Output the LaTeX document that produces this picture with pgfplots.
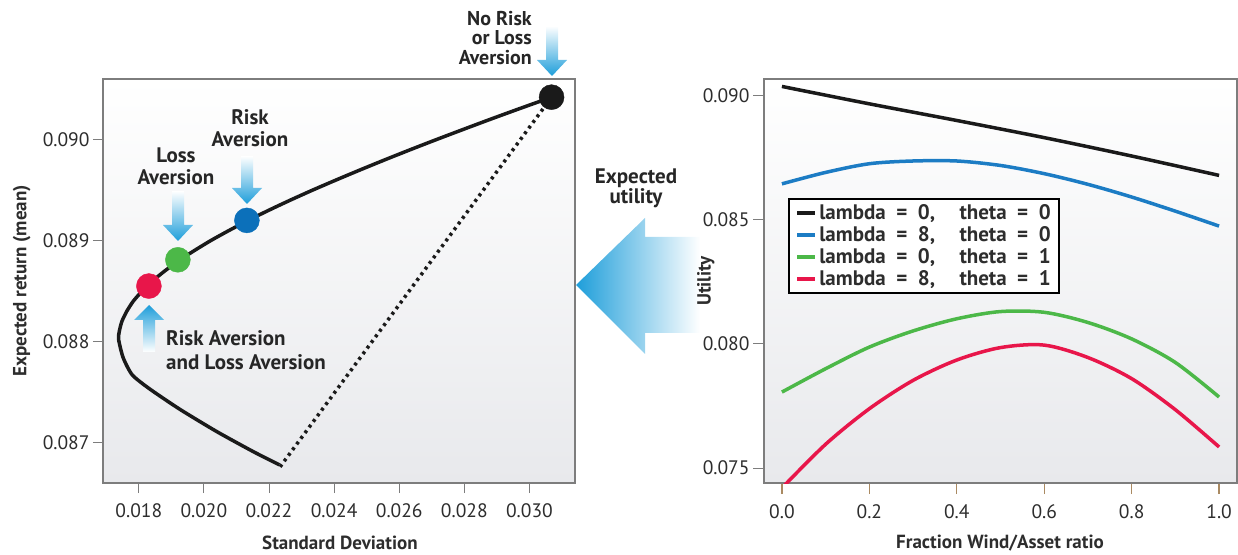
\documentclass[border=0pt]{standalone}
\usepackage{fontspec}
\setmainfont{PT Sans}
\usepackage{pgfplots}
\pgfplotsset{compat=1.18}
\definecolor{cBlack}{RGB}{26,26,26}
\definecolor{cBlue}{RGB}{12,112,186}
\definecolor{cLineBlue}{RGB}{28,124,196}
\definecolor{cGreen}{RGB}{76,184,72}
\definecolor{cRed}{RGB}{232,22,74}
\definecolor{arrowblue}{RGB}{30,158,218}
\definecolor{bgbot}{RGB}{232,233,236}
\definecolor{framegray}{RGB}{125,125,125}
\definecolor{tickbrown}{RGB}{170,138,98}
\definecolor{labelgray}{RGB}{45,45,45}

\pgfplotsset{
 common/.style={
  scale only axis, height=404pt, anchor=south west,
  axis background/.style={shade, top color=white, bottom color=bgbot},
  axis line style={draw=framegray, line width=1.2pt},
  tick align=outside, major tick length=10pt,
  xtick pos=bottom, ytick pos=left,
  tick style={draw=framegray, line width=1pt},
  tick label style={font=\fontsize{19.5}{19.5}\selectfont, text=labelgray},
  xticklabel shift=7pt,
  label style={font=\bfseries\fontsize{19}{19}\selectfont, text=labelgray},
  scaled ticks=false,
 }
}

\begin{document}
\begin{tikzpicture}
\useasboundingbox (0,0) rectangle (1238pt,554pt);

% ---------------- left axis ----------------
\begin{axis}[common, at={(103pt,71pt)}, width=472pt,
 xmin=0.0169, xmax=0.0314, ymin=0.0866, ymax=0.0906,
 xtick={0.018,0.020,0.022,0.024,0.026,0.028,0.030},
 xticklabels={0.018,0.020,0.022,0.024,0.026,0.028,0.030},
 ytick={0.087,0.088,0.089,0.090},
 yticklabels={0.087,0.088,0.089,0.090},
 xlabel={Standard Deviation}, ylabel={Expected return (mean)},
 x label style={at={(axis description cs:0.502,-0.148)}, anchor=center},
 y label style={at={(axis description cs:-0.172,0.5)}, anchor=center},
]
\addplot[cBlack, line width=3.5pt, dash pattern=on 3pt off 4pt] coordinates {
 (0.02234,0.08676) (0.03068,0.09042)};
\addplot[cBlack, line width=3.5pt, smooth, tension=0.4] coordinates {
 (0.02232,0.08678) (0.02152,0.08691) (0.02039,0.08711) (0.01926,0.08733)
 (0.01834,0.08753) (0.01780,0.08767) (0.01752,0.08784) (0.01738,0.08802)
 (0.01740,0.0881) (0.01748,0.0882) (0.01763,0.0883) (0.01783,0.0884)
 (0.01810,0.0885) (0.01842,0.0886) (0.01880,0.0887) (0.01922,0.0888)
 (0.01970,0.0889) (0.02021,0.0890) (0.02077,0.0891) (0.02136,0.0892)
 (0.02199,0.0893) (0.02265,0.0894) (0.02334,0.0895) (0.02406,0.0896)
 (0.02480,0.0897) (0.02556,0.0898) (0.02634,0.0899) (0.02714,0.0900)
 (0.02796,0.0901) (0.02879,0.0902) (0.02964,0.0903) (0.03068,0.09042)};
\addplot[only marks, mark=*, mark size=12.5pt, mark options={draw=cRed, fill=cRed}] coordinates {(0.01831,0.08855)};
\addplot[only marks, mark=*, mark size=12.5pt, mark options={draw=cGreen, fill=cGreen}] coordinates {(0.0192,0.08881)};
\addplot[only marks, mark=*, mark size=12.5pt, mark options={draw=cBlue, fill=cBlue}] coordinates {(0.02132,0.0892)};
\addplot[only marks, mark=*, mark size=12.5pt, mark options={draw=cBlack, fill=cBlack}] coordinates {(0.03068,0.09042)};
\end{axis}

% big "Expected utility" arrow (drawn before the right axis)
\begin{scope}[shift={(0pt,554pt)}, x=1pt, y=-1pt]
 \shade[left color=arrowblue, middle color=arrowblue!75, right color=white]
   (576,285) -- (645,218) -- (645,237) -- (700,237) -- (700,333) -- (645,333) -- (645,354) -- cycle;
\end{scope}

% ---------------- right axis ----------------
\begin{axis}[common, at={(764pt,71pt)}, width=473pt,
 xmin=-0.041, xmax=1.041, ymin=0.0744, ymax=0.09066,
 xtick={0,0.2,0.4,0.6,0.8,1.0},
 xticklabels={0.0,0.2,0.4,0.6,0.8,1.0},
 ytick={0.075,0.080,0.085,0.090},
 yticklabels={0.075,0.080,0.085,0.090},
 x tick style={draw=tickbrown, line width=1.2pt},
 major tick length=11pt,
 xlabel={Fraction Wind/Asset ratio}, ylabel={Utility},
 x label style={at={(axis description cs:0.499,-0.148)}, anchor=center},
 y label style={at={(axis description cs:-0.123,0.5)}, anchor=center},
 legend style={at={(0.0507,0.7054)}, anchor=north west, draw=black, line width=1.6pt,
   fill=white, font=\bfseries\fontsize{21}{21}\selectfont, text=labelgray,
   inner xsep=6pt, inner ysep=4pt, row sep=1.5pt},
 legend cell align=left,
 legend image code/.code={\draw[#1, line width=4.5pt] (0pt,0pt) -- (18pt,0pt);},
]
\addplot[cBlack, line width=3.5pt, smooth] coordinates {
 (0,0.09036) (0.2,0.08966) (0.4,0.08899) (0.6,0.0883) (0.8,0.08756) (1,0.08678)};
\addlegendentry{lambda\enspace=\enspace0,\quad\,theta\enspace=\enspace0}
\addplot[cLineBlue, line width=3.5pt, smooth] coordinates {
 (0,0.08644) (0.1,0.0869) (0.2,0.08725) (0.3,0.08736) (0.4,0.08736) (0.5,0.08718)
 (0.6,0.08685) (0.7,0.08642) (0.8,0.08591) (0.9,0.08534) (1.0,0.08474)};
\addlegendentry{lambda\enspace=\enspace8,\quad\,theta\enspace=\enspace0}
\addplot[cGreen, line width=3.5pt, smooth] coordinates {
 (0,0.07806) (0.1,0.079) (0.2,0.07987) (0.3,0.08052) (0.4,0.08101) (0.5,0.0813)
 (0.6,0.08127) (0.7,0.08086) (0.8,0.0802) (0.9,0.07925) (1.0,0.07786)};
\addlegendentry{lambda\enspace=\enspace0,\quad\,theta\enspace=\enspace1}
\addplot[cRed, line width=3.5pt, smooth] coordinates {
 (0,0.0742) (0.1,0.07596) (0.2,0.07739) (0.3,0.07853) (0.4,0.07935) (0.5,0.07985)
 (0.6,0.07995) (0.7,0.07945) (0.8,0.0786) (0.9,0.07735) (1.0,0.07585)};
\addlegendentry{lambda\enspace=\enspace8,\quad\,theta\enspace=\enspace1}
\end{axis}

% ---------------- annotations (image pixel coordinates) ----------------
\begin{scope}[shift={(0pt,554pt)}, x=1pt, y=-1pt]
 \newcommand{\DArrow}[4]{%
  \shade[top color=white, bottom color=arrowblue]
   ({#1-6},#2) -- ({#1+6},#2) -- ({#1+6},#3) -- ({#1+15},#3) -- (#1,#4)
   -- ({#1-15},#3) -- ({#1-6},#3) -- cycle;}
 \DArrow{552}{26}{60}{76}
 \DArrow{247}{156}{188}{204}
 \DArrow{178}{191}{225}{241}
 \shade[bottom color=white, top color=arrowblue]
   (143,352) -- (155,352) -- (155,320) -- (164,320) -- (149,305) -- (134,320) -- (143,320) -- cycle;

 \begin{scope}[every node/.style={inner sep=0pt, text=black!85}]
  \node[align=right, anchor=east, font=\bfseries\fontsize{20}{19.5}\selectfont] at (532,38) {No Risk\\or Loss\\Aversion};
  \node[align=center, font=\bfseries\fontsize{21}{22}\selectfont] at (250,128) {Risk\\Aversion};
  \node[align=center, font=\bfseries\fontsize{21}{22}\selectfont] at (176,166) {Loss\\Aversion};
  \node[align=left, anchor=west, font=\bfseries\fontsize{21}{23.5}\selectfont] at (166,350) {Risk Aversion\\and Loss Aversion};
  \node[align=center, font=\bfseries\fontsize{21}{20}\selectfont] at (636,188) {Expected\\utility};
 \end{scope}
\end{scope}
\end{tikzpicture}
\end{document}
